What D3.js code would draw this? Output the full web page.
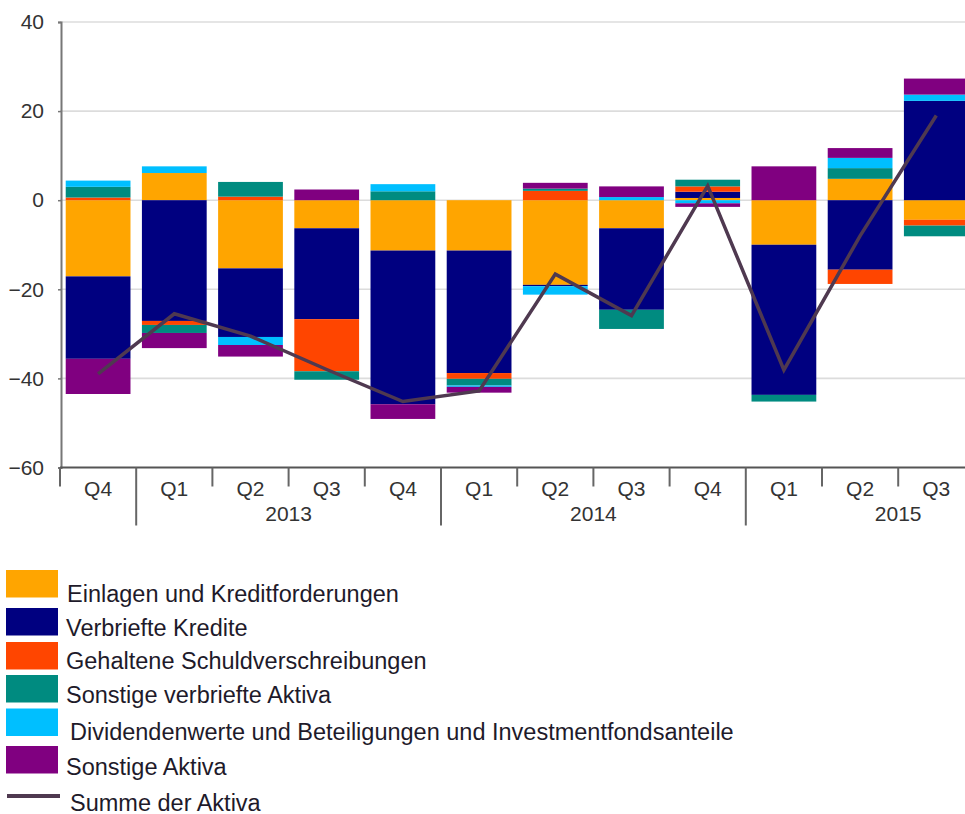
<!DOCTYPE html>
<html><head><meta charset="utf-8">
<script src="https://cdn.jsdelivr.net/npm/d3@7"></script>
<style>
html,body{margin:0;padding:0;background:#fff;overflow:hidden}
svg{display:block;font-family:"Liberation Sans",Arial,sans-serif}
</style></head>
<body><svg id="c" width="965" height="814"></svg>
<script>
// ---- data ----
const quarters = ["Q4","Q1","Q2","Q3","Q4","Q1","Q2","Q3","Q4","Q1","Q2","Q3"];
const years    = ["2012","2013","2013","2013","2013","2014","2014","2014","2014","2015","2015","2015"];
const seriesNames = [
  "Einlagen und Kreditforderungen",
  "Verbriefte Kredite",
  "Gehaltene Schuldverschreibungen",
  "Sonstige verbriefte Aktiva",
  "Dividendenwerte und Beteiligungen und Investmentfondsanteile",
  "Sonstige Aktiva"
];
const einlagen      = [-17.1, 6.1, -15.3, -6.3, -11.3, -11.3, -19.0, -6.3, 0.5, -10.0, 4.8, -4.4];
const verbriefte    = [-18.5, -27.1, -15.4, -20.4, -34.5, -27.5, -0.3, -18.3, 1.4, -33.7, -15.6, 22.3];
const schuldversch  = [0.6, -0.9, 0.8, -11.7, 0.0, -1.3, 2.1, 0.0, 1.2, 0.0, -3.2, -1.3];
const sonstVerbr    = [2.4, -1.8, 3.3, -1.9, 2.0, -1.5, 0.5, -4.3, 1.5, -1.5, 2.4, -2.4];
const dividenden    = [1.4, 1.5, -1.8, 0.0, 1.6, -0.3, -1.9, 0.7, -0.7, 0.0, 2.3, 1.4];
const sonstAktiva   = [-7.9, -3.4, -2.6, 2.4, -3.3, -1.3, 1.3, 2.4, -0.8, 7.6, 2.2, 3.6];
const summe         = [-39.0, -25.5, -30.5, -38.0, -45.2, -42.8, -16.6, -25.9, 3.2, -38.1, -8.0, 19.0];
const lineName = "Summe der Aktiva";
const yTicks = [40, 20, 0, -20, -40, -60];

const colors = ["#FFA500","#000080","#FF4500","#008B80","#00BFFF","#800080"];
const lineColor = "#4f3950";

// ---- build table ----
const keys = quarters.map((q,i)=>years[i]+" "+q);
const seriesArrays = [einlagen, verbriefte, schuldversch, sonstVerbr, dividenden, sonstAktiva];
const table = keys.map((k,i)=>{
  const row = {key:k};
  seriesNames.forEach((n,j)=>row[n]=seriesArrays[j][i]);
  return row;
});

const svg = d3.select("#c");
const pLeft = 60, pRight = 974.4, pTop = 22, pBottom = 467.5;

const x = d3.scaleBand().domain(keys).range([pLeft, pRight]).paddingInner(0.15).paddingOuter(0.075);
const y = d3.scaleLinear().domain([-60, 40]).range([pBottom, pTop]);

// gridlines
svg.append("g").selectAll("line").data(yTicks.filter(t=>t!==-60)).join("line")
  .attr("x1", pLeft).attr("x2", 965)
  .attr("y1", d=>y(d)).attr("y2", d=>y(d))
  .attr("stroke", "#dcdcdc").attr("stroke-width", 1.6);

// stacked bars
const stack = d3.stack().keys(seriesNames).offset(d3.stackOffsetDiverging);
const stacked = stack(table);
svg.append("g").selectAll("g").data(stacked).join("g")
  .attr("fill", (d,i)=>colors[i])
  .selectAll("rect").data(d=>d).join("rect")
  .attr("x", d=>x(d.data.key))
  .attr("width", x.bandwidth())
  .attr("y", d=>y(Math.max(d[0], d[1])))
  .attr("height", d=>Math.abs(y(d[0]) - y(d[1])));

// sum line
const line = d3.line().x((d,i)=>x(keys[i]) + x.bandwidth()/2).y(d=>y(d));
svg.append("path").datum(summe).attr("d", line)
  .attr("fill","none").attr("stroke", lineColor).attr("stroke-width", 3.5)
  .attr("stroke-linejoin","miter");

// y axis
const yAxis = d3.axisLeft(y).tickValues(yTicks).tickSize(3).tickPadding(14).tickFormat(d3.format("d"));
const gy = svg.append("g").attr("transform", `translate(${pLeft+1},0)`).call(yAxis);
gy.select(".domain").attr("stroke","#777").attr("stroke-width",2);
gy.selectAll(".tick line").attr("stroke","#777").attr("stroke-width",1.5);
gy.selectAll(".tick text").attr("font-size", 21).attr("fill","#333")
  .attr("font-family","'Liberation Sans',Arial,sans-serif");

// x axis
const gx = svg.append("g");
gx.append("line").attr("x1", pLeft).attr("x2", 965).attr("y1", y(-60)).attr("y2", y(-60))
  .attr("stroke","#555").attr("stroke-width",2);
const half = x.step()*x.paddingInner()/2;
const bounds = keys.map((k,i)=>({pos: x(k)-half, long: i>0 && quarters[i]==="Q1"}));
gx.selectAll("line.t").data(bounds).join("line").attr("class","t")
  .attr("x1", d=>d.pos).attr("x2", d=>d.pos)
  .attr("y1", y(-60)).attr("y2", d=>d.long ? y(-60)+58 : y(-60)+19)
  .attr("stroke","#666").attr("stroke-width",2);
gx.selectAll("text.q").data(keys).join("text").attr("class","q")
  .attr("x", (k)=>x(k)+x.bandwidth()/2).attr("y", 495.5)
  .attr("text-anchor","middle").attr("font-size",21).attr("fill","#333")
  .text((k,i)=>quarters[i]);
const yearLabels = keys.map((k,i)=>({k, i})).filter(d=>quarters[d.i]==="Q3");
gx.selectAll("text.y").data(yearLabels).join("text").attr("class","y")
  .attr("x", d=>x(d.k)-half).attr("y", 520.5)
  .attr("text-anchor","middle").attr("font-size",21).attr("fill","#333")
  .text(d=>years[d.i]);

// legend
const swTops = [570, 608, 642, 675, 708.5, 746];
const txBase = [601.5, 636, 668.5, 702.5, 740, 775];
const txX = [67, 66, 66, 66, 70, 66];
const lg = svg.append("g");
seriesNames.forEach((n,i)=>{
  lg.append("rect").attr("x",6).attr("y",swTops[i]).attr("width",52).attr("height",27.5).attr("fill",colors[i]);
  lg.append("text").attr("x",txX[i]).attr("y",txBase[i]).attr("font-size",23.5).attr("fill","#1e1a2a").text(n);
});
lg.append("line").attr("x1",7).attr("x2",60).attr("y1",796).attr("y2",796).attr("stroke",lineColor).attr("stroke-width",4);
lg.append("text").attr("x",70).attr("y",810.5).attr("font-size",23.5).attr("fill","#1e1a2a").text(lineName);
</script></body></html>
